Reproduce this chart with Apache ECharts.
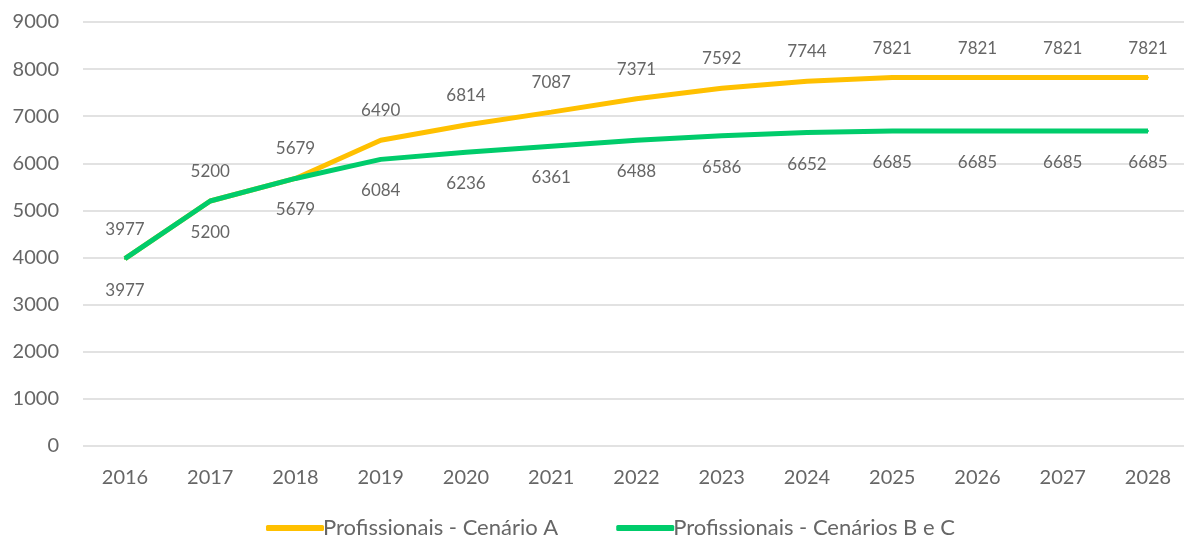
<!DOCTYPE html>
<html>
<head>
<meta charset="utf-8">
<script src="https://cdn.jsdelivr.net/npm/echarts@6/dist/echarts.min.js"></script>
<style>
  html, body { margin: 0; padding: 0; background: #fff; }
  #chart { width: 1184px; height: 538px; }
</style>
</head>
<body>
<div id="chart"></div>
<script>
const years = ['2016', '2017', '2018', '2019', '2020', '2021', '2022', '2023', '2024', '2025', '2026', '2027', '2028']
const cenarioA = [3977, 5200, 5679, 6490, 6814, 7087, 7371, 7592, 7744, 7821, 7821, 7821, 7821]
const cenarioBC = [3977, 5200, 5679, 6084, 6236, 6361, 6488, 6586, 6652, 6685, 6685, 6685, 6685]

const FONT = 'Lato'
const TEXT = '#666666'
const ORANGE = '#FFC000'
const GREEN = '#00CC6B'
const chart = echarts.init(document.getElementById('chart'))

// grid 0 carries the lines; grid 1 only draws the wide gridlines and y labels
chart.setOption({
  animation: false,
  textStyle: { fontFamily: FONT },
  grid: [
    { left: 125, right: 36, top: 22, height: 424 },
    { left: 83, right: 0, top: 22, height: 424 },
  ],
  legend: {
    top: 512,
    left: 261,
    itemGap: 58,
    itemWidth: 58,
    itemHeight: 6,
    icon: 'roundRect',
    textStyle: { fontFamily: FONT, fontSize: 22, color: TEXT, padding: [0, 0, 0, -6] },
    data: [
      { name: 'Profissionais - Cenário A', itemStyle: { color: ORANGE } },
      { name: 'Profissionais - Cenários B e C', itemStyle: { color: GREEN } },
    ],
  },
  xAxis: [
    {
      gridIndex: 0,
      type: 'category',
      data: years,
      boundaryGap: false,
      axisLine: { show: false },
      axisTick: { show: false },
      axisLabel: { color: TEXT, fontSize: 20, margin: 22, fontFamily: FONT },
    },
    { gridIndex: 1, type: 'value', show: false },
  ],
  yAxis: [
    {
      gridIndex: 0,
      type: 'value',
      min: 0,
      max: 9000,
      interval: 1000,
      show: false,
      splitLine: { show: false },
    },
    {
      gridIndex: 1,
      type: 'value',
      min: 0,
      max: 9000,
      interval: 1000,
      axisLine: { show: false },
      axisTick: { show: false },
      axisLabel: { color: TEXT, fontSize: 20, margin: 24, fontFamily: FONT, formatter: (v) => String(v) },
      splitLine: { lineStyle: { color: '#d9d9d9', width: 1.5 } },
    },
  ],
  series: [
    {
      name: 'Profissionais - Cenário A',
      type: 'line',
      xAxisIndex: 0,
      yAxisIndex: 0,
      data: cenarioA,
      symbol: 'circle',
      symbolSize: 2,
      showSymbol: true,
      lineStyle: { color: ORANGE, width: 5, cap: 'butt' },
      itemStyle: { color: ORANGE },
      label: { show: true, position: 'top', distance: 20, color: TEXT, fontSize: 17, fontFamily: FONT },
      labelLayout: { hideOverlap: false },
      z: 2,
    },
    {
      name: 'Profissionais - Cenários B e C',
      type: 'line',
      xAxisIndex: 0,
      yAxisIndex: 0,
      data: cenarioBC,
      symbol: 'circle',
      symbolSize: 2,
      showSymbol: true,
      lineStyle: { color: GREEN, width: 5, cap: 'butt' },
      itemStyle: { color: GREEN },
      label: { show: true, position: 'bottom', distance: 22, color: TEXT, fontSize: 17, fontFamily: FONT },
      labelLayout: { hideOverlap: false },
      z: 3,
    },
  ],
})
</script>
</body>
</html>
